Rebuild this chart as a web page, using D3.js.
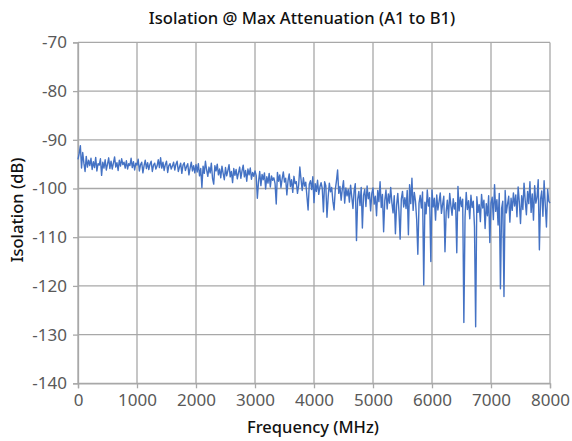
<!DOCTYPE html>
<html><head><meta charset="utf-8">
<script src="https://cdn.jsdelivr.net/npm/d3@7"></script>
<style>
html,body{margin:0;padding:0;background:#fff;}
svg{display:block;font-family:"Noto Sans",sans-serif;}
</style></head>
<body>
<svg id="chart" width="572" height="441"></svg>
<script>
const title = "Isolation @ Max Attenuation (A1 to B1)";
const xTitle = "Frequency (MHz)";
const yTitle = "Isolation (dB)";
const xTicks = [0,1000,2000,3000,4000,5000,6000,7000,8000];
const yTicks = [-70,-80,-90,-100,-110,-120,-130,-140];
const freqStep = 20; // MHz between samples, starting at 0
const isolation = [
-94.0,-92.8,-91.2,-95.8,-92.6,-94.8,-96.5,-93.4,-95.6,-94.2,
-95.3,-93.8,-96.1,-94.5,-95.7,-93.6,-96.4,-94.9,-95.2,-93.9,
-97.3,-94.6,-95.8,-94.1,-96.2,-95.0,-93.7,-95.9,-94.4,-96.0,
-94.8,-93.5,-95.6,-94.7,-96.3,-94.2,-95.4,-93.9,-95.1,-94.6,
-95.8,-94.3,-96.0,-94.9,-95.3,-93.8,-95.7,-94.5,-96.2,-94.8,
-95.2,-94.0,-96.4,-95.1,-94.6,-96.8,-95.3,-94.2,-95.9,-94.7,
-96.1,-95.0,-94.4,-96.5,-95.2,-94.8,-96.0,-95.4,-94.1,-95.7,
-93.7,-95.8,-94.6,-96.3,-95.1,-94.4,-96.7,-95.3,-94.9,-96.0,
-95.4,-94.6,-96.2,-95.0,-94.4,-96.5,-95.6,-94.8,-96.9,-95.2,
-94.7,-96.3,-95.5,-94.9,-97.2,-95.8,-94.6,-96.4,-95.3,-96.8,
-95.1,-96.6,-94.9,-97.4,-95.9,-99.8,-95.4,-96.9,-94.4,-96.2,
-97.5,-95.6,-96.8,-94.8,-97.9,-99.1,-95.3,-96.4,-95.0,-97.2,
-96.0,-97.8,-95.4,-96.9,-98.2,-95.7,-97.4,-96.3,-95.1,-97.6,
-96.5,-98.8,-95.9,-97.3,-96.1,-98.0,-96.8,-95.6,-97.9,-96.4,
-95.2,-97.6,-96.3,-98.5,-96.0,-97.2,-95.8,-98.1,-96.7,-97.5,
-96.4,-97.3,-102.0,-98.6,-96.5,-99.4,-97.1,-98.2,-96.8,-100.1,
-97.6,-98.9,-96.9,-99.7,-97.4,-98.3,-97.8,-99.0,-103.2,-96.7,
-98.5,-97.2,-99.8,-98.0,-96.6,-98.7,-97.9,-101.3,-98.4,-97.0,
-99.6,-98.2,-100.8,-97.5,-99.0,-98.6,-101.0,-99.3,-95.6,-98.1,
-100.4,-97.8,-99.5,-98.7,-101.6,-104.4,-99.1,-98.4,-100.2,-97.6,
-102.9,-99.0,-100.6,-98.3,-101.2,-99.7,-98.8,-100.0,-104.8,-98.6,
-99.4,-105.9,-101.8,-98.9,-100.7,-99.8,-102.6,-104.4,-100.3,-98.5,
-96.2,-101.0,-99.6,-102.4,-100.1,-98.4,-103.0,-99.9,-101.5,-100.2,
-102.8,-99.3,-101.7,-104.1,-100.5,-99.0,-110.7,-102.3,-100.6,-103.5,
-99.8,-108.1,-101.4,-100.2,-103.7,-99.5,-102.1,-100.8,-104.6,-101.0,
-99.9,-103.2,-101.6,-105.6,-100.4,-102.7,-98.6,-103.9,-101.2,-108.9,
-102.5,-100.3,-104.2,-101.1,-103.0,-99.8,-102.9,-105.0,-101.5,-109.3,
-103.4,-101.0,-104.7,-110.4,-102.2,-100.6,-103.8,-101.9,-104.1,-100.4,
-109.5,-99.2,-103.1,-97.9,-104.5,-100.8,-102.6,-106.3,-113.5,-103.0,
-101.4,-104.0,-100.7,-119.8,-102.8,-105.2,-100.3,-103.6,-101.9,-115.0,
-100.3,-103.8,-102.0,-106.5,-101.3,-104.4,-102.7,-100.9,-105.1,-103.2,
-101.6,-113.0,-104.8,-102.4,-106.0,-101.0,-103.5,-105.5,-102.1,-104.2,
-102.9,-113.2,-99.6,-104.6,-101.8,-103.7,-102.2,-127.5,-105.9,-100.8,
-104.3,-102.5,-106.2,-101.4,-103.9,-102.6,-107.8,-128.4,-101.7,-104.9,
-103.3,-106.8,-101.2,-104.0,-102.4,-108.2,-103.1,-105.6,-101.5,-111.1,
-103.0,-101.8,-106.4,-99.2,-104.7,-102.3,-107.5,-101.0,-120.6,-104.1,
-102.6,-122.2,-100.4,-105.0,-103.2,-101.6,-106.9,-102.0,-104.5,-100.9,
-103.6,-101.3,-105.8,-99.7,-102.8,-107.2,-101.5,-104.3,-98.9,-102.5,
-105.4,-100.6,-103.1,-98.6,-104.9,-101.1,-106.5,-99.4,-103.0,-101.8,
-98.2,-112.6,-102.2,-100.5,-105.7,-98.4,-103.4,-107.9,-100.2,-102.6,
-103.0
];

const svg = d3.select("#chart");
const L = 78, R = 550, T = 42.4, B = 383.3;
const x = d3.scaleLinear().domain([0, 8000]).range([L, R]);
const y = d3.scaleLinear().domain([-70, -140]).range([T, B]);
const gridColor = "#a8a8a8";
const labelColor = "#595959";

// gridlines
svg.append("g").selectAll("line.h").data(yTicks).join("line")
  .attr("x1", L).attr("x2", R)
  .attr("y1", d => y(d)).attr("y2", d => y(d))
  .attr("stroke", gridColor).attr("stroke-width", 1.3);
svg.append("g").selectAll("line.v").data(xTicks).join("line")
  .attr("x1", d => x(d)).attr("x2", d => x(d))
  .attr("y1", T).attr("y2", B)
  .attr("stroke", gridColor).attr("stroke-width", 1.3);

// axes
const fmt = d => String(d);
const yAxis = d3.axisLeft(y).tickValues(yTicks).tickSize(5).tickPadding(6).tickFormat(fmt);
const gy = svg.append("g").attr("transform", `translate(${L},0)`).call(yAxis);
const xAxis = d3.axisBottom(x).tickValues(xTicks).tickSize(5).tickPadding(6).tickFormat(fmt);
const gx = svg.append("g").attr("transform", `translate(0,${B})`).call(xAxis);
[gx, gy].forEach(g => {
  g.select(".domain").attr("stroke", gridColor).attr("stroke-width", 1.3);
  g.selectAll(".tick line").attr("stroke", gridColor).attr("stroke-width", 1.3);
  g.selectAll(".tick text").attr("fill", labelColor)
    .style("font-family", "'Noto Sans', sans-serif").style("font-size", "17px");
});

// line
const line = d3.line()
  .x((d, i) => x(i * freqStep))
  .y(d => y(d));
svg.append("path").datum(isolation)
  .attr("d", line).attr("fill", "none")
  .attr("stroke", "#4472c4").attr("stroke-width", 1.4)
  .attr("stroke-linejoin", "round");

// titles
svg.append("text").attr("x", 302).attr("y", 24).attr("text-anchor", "middle")
  .style("font-size", "16.6px").style("font-weight", 500).attr("fill", "#111").text(title);
svg.append("text").attr("x", 313).attr("y", 433).attr("text-anchor", "middle")
  .style("font-size", "16.5px").style("font-weight", 500).attr("fill", "#111").text(xTitle);
svg.append("text").attr("transform", "translate(23,210) rotate(-90)").attr("text-anchor", "middle")
  .style("font-size", "16.5px").style("font-weight", 500).attr("fill", "#111").text(yTitle);
</script>
</body></html>
